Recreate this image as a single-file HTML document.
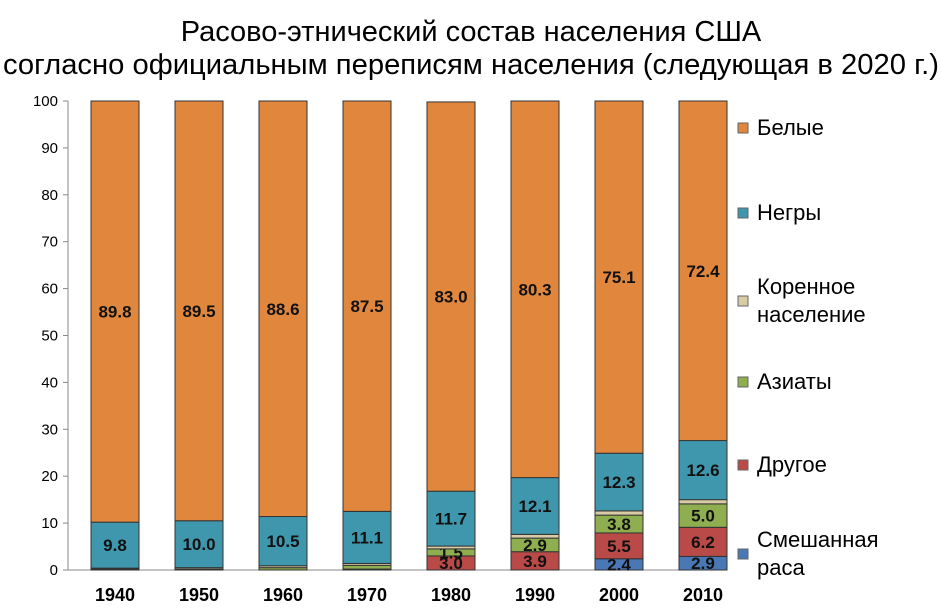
<!DOCTYPE html>
<html><head><meta charset="utf-8"><style>
body{margin:0;background:#fff;}
svg text{font-family:"Liberation Sans",sans-serif;}
</style></head><body>
<svg id="c" width="942" height="611" xmlns="http://www.w3.org/2000/svg">
<text x="471" y="41" text-anchor="middle" font-size="29">Расово-этнический состав населения США</text>
<text x="471" y="74" text-anchor="middle" font-size="29" textLength="936" lengthAdjust="spacingAndGlyphs">согласно официальным переписям населения (следующая в 2020 г.)</text>
<g id="axes"></g><g id="bars"></g><g id="legend"></g>
</svg>
<script>
const years=["1940","1950","1960","1970","1980","1990","2000","2010"];
const mixed=[0,0,0,0,0,0,2.4,2.9];
const other=[0,0,0,0.2,3.0,3.9,5.5,6.2];
const asian=[0.2,0.2,0.5,0.8,1.5,2.9,3.8,5.0];
const native=[0.2,0.3,0.4,0.4,0.6,0.8,0.9,0.9];
const black=[9.8,10.0,10.5,11.1,11.7,12.1,12.3,12.6];
const white=[89.8,89.5,88.6,87.5,83.0,80.3,75.1,72.4];
const yTicks=[0,10,20,30,40,50,60,70,80,90,100];
const seriesNames=["Смешанная раса","Другое","Азиаты","Коренное население","Негры","Белые"];
const NS="http://www.w3.org/2000/svg";
const x0=68,x1=723,yTop=101,yBot=570;
const y=v=>yBot-(v/100)*(yBot-yTop);
const step=84,bw=48;
const xc=i=>115+i*step;
function mk(t,a,p){const e=document.createElementNS(NS,t);for(const k in a)e.setAttribute(k,a[k]);p.appendChild(e);return e;}
const ax=document.getElementById('axes');
let l=mk('line',{x1:x0,y1:yTop,x2:x0,y2:yBot,stroke:'#888'},ax);


l=mk('line',{x1:x0,y1:yBot,x2:x1,y2:yBot,stroke:'#888'},ax);


yTicks.forEach(t=>{
 const tk=mk('line',{x1:x0-5,x2:x0,y1:y(t),y2:y(t),stroke:'#888'},ax);
 
 
 const tx=mk('text',{x:x0-10,y:y(t)+5,'text-anchor':'end','font-size':15},ax);
 tx.textContent=t;
 
 
});
const series=[mixed,other,asian,native,black,white];
const colors=["#4A78B5","#B94A48","#8FAE4F","#D9CBA6","#3F97AE","#E0873D"];
const labelOn=[v=>v>=2,v=>v>=2,v=>v>=1.4,()=>false,()=>true,()=>true];
const bg=document.getElementById('bars');
years.forEach((yr,i)=>{
 let cum=0;
 series.forEach((s,k)=>{
  const v=s[i];
  if(v>0){
   const r=mk('rect',{x:xc(i)-bw/2,y:y(cum+v),width:bw,height:y(cum)-y(cum+v),fill:colors[k],stroke:'#333','stroke-width':1},bg);
   
   
   if(labelOn[k](v)){
    const t=mk('text',{x:xc(i),y:(y(cum)+y(cum+v))/2+6,'text-anchor':'middle','font-size':17,'font-weight':'bold',fill:'#111'},bg);
    t.textContent=v.toFixed(1);
    
    
   }
  }
  cum+=v;
 });
 const t=mk('text',{x:xc(i),y:601,'text-anchor':'middle','font-size':18,'font-weight':'bold'},bg);
 t.textContent=yr;
 
 
});
const lg=document.getElementById('legend');
const lgY=[128,213,301,382,465,554];
const lines=[["Смешанная","раса"],["Другое"],["Азиаты"],["Коренное","население"],["Негры"],["Белые"]];
seriesNames.forEach((n,k)=>{
 const yy=lgY[5-k];
 const r=mk('rect',{x:738,y:yy-5,width:10,height:10,fill:colors[k],stroke:'#666'},lg);
 
 
 const ln=lines[k];
 ln.forEach((s,j)=>{
  const t=mk('text',{x:757,y:yy+7+(j-(ln.length-1)/2)*28,'font-size':22},lg);
  t.textContent=s;
  
  
 });
});
</script>
</body></html>
